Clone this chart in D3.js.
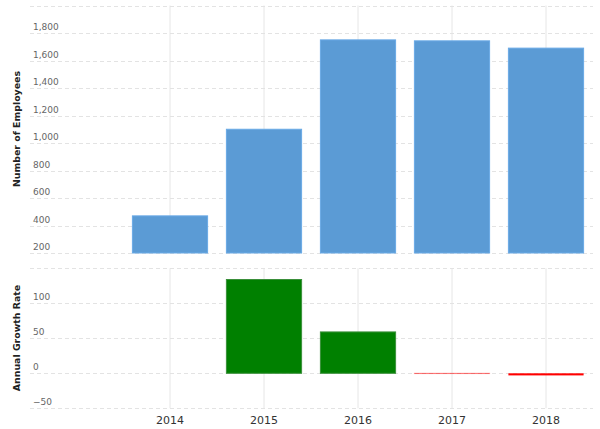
<!DOCTYPE html>
<html><head><meta charset="utf-8">
<script src="https://cdn.jsdelivr.net/npm/d3@7"></script>
<style>body{margin:0;background:#fff}svg{display:block}</style>
</head><body>
<svg id="c" width="600" height="429"></svg>
<script>
const years = ["2014","2015","2016","2017","2018"];
const employees = [470, 1100, 1750, 1743, 1690];
const growth = [null, 134.0, 59.1, -0.4, -3.0];
const empTicks = [200,400,600,800,1000,1200,1400,1600,1800,2000];
const growthTicks = [-50,0,50,100,150];

const svg = d3.select("#c");
const font = "DejaVu Sans, Verdana, sans-serif";
const x = d3.scaleBand().domain(years).range([123,593]).paddingInner(0.2).paddingOuter(0.1);
const yTop = d3.scaleLinear().domain([200,2000]).range([253,5.5]);
const yBot = d3.scaleLinear().domain([-50,150]).range([408.3,268.3]);
const fmt = d3.format(",");

function panel(y, ticks, labelFilter, yr){
  const g = svg.append("g");
  g.selectAll(".vg").data(years).join("line")
    .attr("x1", d=>x(d)+x.bandwidth()/2).attr("x2", d=>x(d)+x.bandwidth()/2)
    .attr("y1", yr[1]).attr("y2", yr[0])
    .attr("stroke","#e6e6e6").attr("stroke-width",1);
  g.selectAll(".hg").data(ticks).join("line")
    .attr("x1",30).attr("x2",593)
    .attr("y1", d=>Math.round(y(d))+0.5).attr("y2", d=>Math.round(y(d))+0.5)
    .attr("stroke","#e3e3e3").attr("stroke-dasharray","4,3");
  g.selectAll(".tl").data(ticks.filter(labelFilter)).join("text")
    .attr("x",33).attr("y", d=>y(d)-3)
    .attr("font-family",font).attr("font-size","9px").attr("fill","#666")
    .text(d=>fmt(d));
  return g;
}

const gTop = panel(yTop, empTicks, d=>d<2000, [253,5.5]);
const gBot = panel(yBot, growthTicks, d=>d<150, [408.3,268.3]);

gTop.selectAll(".bar").data(years.map((y,i)=>({y,v:employees[i]}))).join("rect")
  .attr("x", d=>x(d.y)).attr("width", x.bandwidth())
  .attr("y", d=>yTop(d.v)).attr("height", d=>yTop(200)-yTop(d.v))
  .attr("fill","#5b9bd5").attr("stroke","#6aaae6").attr("stroke-width",1);

const gd = years.map((y,i)=>({y,v:growth[i]})).filter(d=>d.v!==null);
gBot.selectAll(".bar").data(gd).join("rect")
  .attr("x", d=>x(d.y)).attr("width", x.bandwidth())
  .attr("y", d=>yBot(Math.max(0,d.v))).attr("height", d=>Math.abs(yBot(d.v)-yBot(0)))
  .attr("fill", d=>d.v>=0?"#008000":"#ff0000")
  .attr("stroke", d=>d.v>=0?"#3a8f3a":(Math.abs(yBot(d.v)-yBot(0))<1?"rgba(255,0,0,0.35)":"none"))
  .attr("stroke-width",1);

svg.selectAll(".xl").data(years).join("text")
  .attr("x", d=>x(d)+x.bandwidth()/2).attr("y",424)
  .attr("text-anchor","middle").attr("font-family",font).attr("font-size","11px").attr("fill","#333")
  .text(d=>d);

svg.append("text").attr("transform","translate(20,129) rotate(-90)")
  .attr("text-anchor","middle").attr("font-family",font).attr("font-size","9.4px").attr("font-weight","bold").attr("fill","#222")
  .text("Number of Employees");
svg.append("text").attr("transform","translate(20,338) rotate(-90)")
  .attr("text-anchor","middle").attr("font-family",font).attr("font-size","9.4px").attr("font-weight","bold").attr("fill","#222")
  .text("Annual Growth Rate");
</script>
</body></html>
